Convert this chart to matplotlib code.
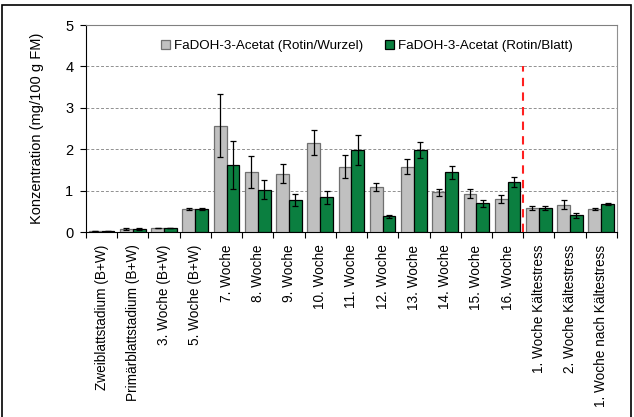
import matplotlib.pyplot as plt
import numpy as np
from matplotlib.patches import Rectangle

plt.rcParams['font.family'] = ['Liberation Sans', 'DejaVu Sans']

# Probenahmezeitpunkte
labels = [
    "Zweiblattstadium (B+W)", "Primärblattstadium (B+W)", "3. Woche (B+W)",
    "5. Woche (B+W)", "7. Woche", "8. Woche", "9. Woche", "10. Woche",
    "11. Woche", "12. Woche", "13. Woche", "14. Woche", "15. Woche",
    "16. Woche", "1. Woche Kältestress", "2. Woche Kältestress",
    "1. Woche nach Kältestress"
]

# Mittelwerte und Fehler (mg/100 g FM)
wurzel = [0.02, 0.08, 0.10, 0.55, 2.57, 1.45, 1.41, 2.16, 1.58, 1.09, 1.58,
          0.96, 0.93, 0.80, 0.58, 0.66, 0.55]
wurzel_err = [0.0, 0.02, 0.0, 0.02, 0.76, 0.39, 0.23, 0.30, 0.28, 0.09, 0.18,
              0.09, 0.11, 0.09, 0.04, 0.11, 0.02]
blatt = [0.02, 0.08, 0.10, 0.55, 1.61, 1.02, 0.77, 0.84, 1.98, 0.38, 1.98,
         1.44, 0.70, 1.21, 0.58, 0.40, 0.68]
blatt_err = [0.0, 0.02, 0.0, 0.02, 0.58, 0.23, 0.14, 0.16, 0.36, 0.03, 0.20,
             0.15, 0.085, 0.13, 0.04, 0.06, 0.02]

x = np.arange(len(labels))
w = 0.41

fig = plt.figure(figsize=(6.34, 4.17), dpi=100)
ax = fig.add_axes([0.1356, 0.4436, 0.8374, 0.4964])

# Rahmen um die ganze Grafik
fig.patches.append(Rectangle((0.003, -0.01), 0.992, 0.998, transform=fig.transFigure,
                             fill=False, edgecolor='black', linewidth=1.2))

ax.bar(x - w / 2, wurzel, w, yerr=wurzel_err, color='#c0c0c0', edgecolor='#707070',
       linewidth=0.9, capsize=2.5, error_kw=dict(elinewidth=0.9, capthick=0.9),
       label='FaDOH-3-Acetat (Rotin/Wurzel)', zorder=3)
ax.bar(x + w / 2, blatt, w, yerr=blatt_err, color='#0b7f40', edgecolor='black',
       linewidth=0.9, capsize=2.5, error_kw=dict(elinewidth=0.9, capthick=0.9),
       label='FaDOH-3-Acetat (Rotin/Blatt)', zorder=3)

# Trennlinie Kältestress
ax.axvline(13.5, color='#ff2020', linestyle=(0, (4, 3)), linewidth=1.5, ymin=0, ymax=0.8,
           zorder=4)

ax.set_xlim(-0.5, len(labels) - 0.5)
ax.set_ylim(0, 5)
ax.set_yticks([0, 1, 2, 3, 4, 5])
ax.yaxis.grid(True, color='#909090', linestyle=(0, (3, 2)), linewidth=0.7)
ax.set_axisbelow(True)

ax.set_xticks(x)
ax.set_xticklabels(labels, rotation=90, fontsize=9.8)
ax.set_xticks(np.arange(-0.5, len(labels)), minor=True)
ax.tick_params(axis='x', which='major', length=0, pad=9)
ax.tick_params(axis='x', which='minor', length=4, width=0.8)
ax.tick_params(axis='y', labelsize=10.5, length=4, width=0.8, pad=5)

ax.spines['top'].set_color('#808080')
ax.spines['top'].set_linestyle((0, (2, 1)))
ax.spines['right'].set_color('#909090')

ax.set_ylabel('Konzentration (mg/100 g FM)', fontsize=10.5, labelpad=15)

ax.legend(loc='upper center', bbox_to_anchor=(0.529, 0.985), ncol=2, frameon=False,
          fontsize=9.6, handlelength=0.7, handleheight=0.7, handletextpad=0.3,
          columnspacing=1.6)

fig.savefig('out.png', dpi=100)
